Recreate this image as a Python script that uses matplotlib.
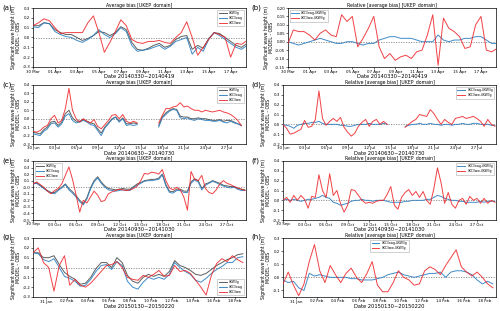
import numpy as np
import pandas as pd
import matplotlib
matplotlib.use("Agg")
import matplotlib.pyplot as plt
import matplotlib.dates as mdates

nan = np.nan

# ---------------- data (12-hourly samples) ----------------
# (a)/(b) 2014-03-30 .. 2014-04-19
a_w3g = [0.12, 0.12, 0.15, 0.14, 0.08, 0.05, 0.03, 0.03, 0.00, -0.03, -0.01, 0.02, 0.06, 0.05, 0.02, 0.05,
         0.11, 0.08, -0.05, -0.12, -0.13, -0.11, -0.08, -0.06, -0.10, -0.08, -0.02, 0.01, 0.02, -0.12,
         -0.08, -0.11, -0.01, 0.05, 0.04, 0.00, -0.04, -0.08, -0.10, -0.06]
a_owg = [0.11, 0.10, 0.15, 0.14, 0.06, 0.03, 0.01, 0.00, -0.03, -0.05, -0.02, 0.02, 0.08, 0.03, 0.00, 0.04,
         0.10, 0.06, -0.08, -0.14, -0.13, -0.12, -0.10, -0.08, -0.12, -0.09, -0.04, -0.02, 0.00, -0.17,
         -0.10, -0.14, -0.02, 0.05, 0.02, -0.02, -0.06, -0.10, -0.12, -0.08]
a_ww = [0.12, 0.15, 0.19, 0.17, 0.10, 0.04, 0.05, 0.05, 0.05, 0.05, 0.15, 0.22, 0.05, -0.15, -0.05, 0.06,
        0.18, 0.12, -0.02, -0.05, -0.06, -0.04, -0.04, -0.03, -0.05, -0.06, 0.00, 0.05, 0.16, 0.00,
        -0.18, -0.10, -0.02, 0.05, 0.03, 0.00, -0.20, -0.06, -0.07, -0.03]
b_owg = [0.00, -0.01, -0.02, -0.01, 0.00, 0.01, 0.02, 0.01, 0.00, -0.01, -0.01, 0.00, 0.00, -0.01, -0.02,
         -0.01, -0.01, 0.01, 0.02, 0.03, 0.03, 0.02, 0.02, 0.02, 0.01, 0.00, 0.00, 0.00, 0.04, 0.01,
         0.00, 0.01, 0.01, 0.02, 0.02, 0.03, 0.03, 0.01, -0.01, -0.01]
b_ww = [-0.01, 0.07, 0.06, 0.06, 0.04, 0.01, 0.05, 0.07, 0.04, 0.03, 0.16, 0.12, 0.15, -0.03, 0.02, 0.08,
        0.15, -0.03, -0.10, -0.07, -0.11, -0.09, -0.08, -0.10, -0.06, -0.05, 0.04, 0.16, -0.14, 0.14,
        0.08, 0.06, 0.03, -0.04, -0.03, 0.10, 0.15, -0.05, -0.06, -0.04]

# (c)/(d) 2014-06-30 .. 2014-07-30
c_w3g = [-0.16, -0.17, -0.18, -0.13, -0.10, -0.04, -0.03, -0.08, -0.04, 0.06, 0.10, 0.01, -0.03, -0.03,
         -0.01, -0.03, -0.05, -0.06, -0.12, -0.17, -0.10, -0.05, 0.00, 0.02, -0.03, 0.01, -0.06, -0.06,
         -0.05, -0.06, nan, nan, nan, nan, nan, -0.08, 0.02, 0.07, 0.10, 0.12, 0.11, 0.03, 0.02, 0.02,
         0.00, 0.00, 0.01, 0.00, 0.00, -0.01, -0.02, -0.02, -0.01, -0.03, -0.02, -0.02, -0.04, -0.06, -0.08]
c_owg = [-0.18, -0.19, -0.20, -0.15, -0.12, -0.06, -0.05, -0.10, -0.06, 0.03, 0.06, -0.02, -0.05, -0.04,
         -0.02, -0.04, -0.07, -0.08, -0.14, -0.20, -0.11, -0.06, -0.01, 0.02, -0.04, 0.00, -0.08, -0.07,
         -0.08, -0.07, nan, nan, nan, nan, nan, -0.10, 0.01, 0.05, 0.09, 0.11, 0.10, 0.01, 0.00, 0.01,
         -0.01, -0.02, 0.00, -0.01, -0.02, -0.02, -0.03, -0.03, -0.02, -0.04, -0.05, -0.03, -0.05, -0.06, -0.08]
c_ww = [-0.15, -0.16, -0.14, -0.10, -0.08, 0.00, 0.04, -0.05, -0.02, 0.12, 0.36, 0.10, 0.00, -0.04, 0.00,
        -0.03, -0.05, -0.01, -0.09, -0.12, -0.07, -0.02, 0.04, 0.05, 0.00, 0.05, -0.03, -0.05, -0.03,
        -0.05, nan, nan, nan, nan, nan, -0.05, 0.04, 0.12, 0.12, 0.14, 0.15, 0.19, 0.14, 0.15, 0.12,
        0.10, 0.10, 0.08, 0.10, 0.09, 0.08, 0.09, 0.10, 0.08, 0.07, 0.05, 0.02, -0.02, -0.08]
d_owg = [0.00, -0.01, -0.02, -0.04, -0.01, 0.00, 0.01, 0.01, 0.02, 0.02, 0.03, 0.01, 0.00, 0.00, 0.00,
         0.00, -0.01, -0.01, -0.02, -0.02, -0.01, 0.00, 0.00, 0.00, 0.01, 0.00, 0.00, 0.00, 0.01, 0.00,
         nan, nan, nan, nan, -0.02, -0.01, 0.00, 0.00, 0.01, 0.00, 0.00, 0.01, 0.00, 0.00, -0.01, 0.00,
         0.00, -0.01, 0.00, 0.00, 0.01, 0.00, 0.00, 0.01, 0.01, 0.00, 0.00, 0.00, -0.01, -0.01]
d_ww = [0.00, -0.04, -0.10, -0.09, -0.07, -0.05, 0.04, -0.03, -0.02, 0.05, 0.34, 0.06, -0.01, 0.03, 0.06,
        0.03, 0.07, -0.03, -0.08, -0.12, -0.09, -0.02, 0.02, 0.05, -0.02, 0.03, 0.05, 0.00, 0.03, 0.00,
        nan, nan, nan, nan, -0.03, 0.00, 0.03, 0.05, 0.10, 0.09, 0.08, 0.15, 0.11, 0.05, 0.00, 0.05,
        0.02, 0.00, 0.06, 0.07, 0.08, 0.06, 0.07, 0.08, 0.06, 0.03, -0.02, 0.05, 0.00, -0.02]

# (e)/(f) 2014-09-30 .. 2014-10-30
e_w3g = [0.05, 0.07, 0.03, -0.01, -0.05, -0.08, -0.08, -0.04, 0.00, 0.05, -0.02, -0.07, -0.13, -0.20,
         -0.25, -0.16, -0.01, 0.10, 0.16, 0.08, 0.02, -0.02, -0.03, -0.04, -0.03, -0.02, -0.03, -0.03,
         0.01, 0.05, 0.07, 0.10, 0.11, 0.12, 0.12, 0.14, 0.20, 0.04, -0.06, -0.07, -0.03, -0.03, -0.06,
         -0.06, 0.08, 0.13, 0.10, -0.02, 0.05, 0.07, 0.10, 0.08, 0.06, 0.03, 0.02, 0.01, 0.01, -0.02,
         -0.03, -0.04]
e_owg = [0.05, 0.06, 0.02, -0.02, -0.06, -0.09, -0.10, -0.05, -0.01, 0.04, -0.04, -0.09, -0.15, -0.22,
         -0.27, -0.18, -0.03, 0.08, 0.14, 0.06, 0.00, -0.04, -0.05, -0.06, -0.05, -0.04, -0.05, -0.05,
         0.00, 0.03, 0.06, 0.09, 0.10, 0.10, 0.11, 0.12, 0.19, 0.02, -0.08, -0.09, -0.05, -0.05, -0.08,
         -0.08, 0.06, 0.11, 0.08, -0.04, 0.03, 0.06, 0.09, 0.07, 0.04, 0.02, 0.00, -0.01, 0.00, -0.03,
         -0.05, -0.05]
e_ww = [0.05, 0.08, 0.04, 0.00, -0.06, -0.10, -0.05, -0.02, 0.05, 0.18, 0.31, 0.12, -0.12, -0.38, -0.20,
        -0.24, -0.15, -0.06, -0.12, -0.22, -0.20, -0.10, -0.07, -0.05, -0.03, -0.04, -0.05, -0.04,
        -0.02, 0.02, 0.10, 0.21, 0.20, 0.23, 0.22, 0.20, 0.27, 0.10, -0.01, -0.04, 0.00, -0.04, -0.15,
        -0.35, 0.24, 0.12, 0.10, 0.18, -0.02, -0.08, -0.10, -0.04, 0.05, 0.10, 0.06, 0.04, 0.01, -0.01,
        -0.03, -0.05]
f_owg = [0.00, 0.01, 0.00, 0.01, 0.00, -0.01, 0.00, 0.01, 0.01, 0.02, 0.03, 0.05, 0.03, 0.02, -0.02,
         -0.03, -0.05, -0.04, -0.03, -0.01, 0.00, 0.00, 0.01, 0.00, 0.00, -0.01, 0.00, 0.00, 0.00,
         -0.01, -0.02, -0.02, -0.02, -0.02, -0.01, -0.01, 0.00, 0.00, 0.00, 0.00, 0.01, 0.01, 0.03,
         0.05, 0.04, 0.02, 0.01, 0.00, 0.00, -0.01, -0.01, -0.02, -0.02, -0.02, -0.02, -0.01, -0.02,
         -0.01, -0.01, -0.01]
f_ww = [0.00, 0.03, -0.02, 0.05, 0.00, 0.05, 0.01, -0.08, 0.04, 0.03, 0.26, 0.10, 0.03, 0.27, 0.05,
        0.10, -0.03, -0.12, -0.05, 0.11, 0.10, 0.05, 0.00, -0.03, -0.02, -0.03, -0.01, 0.00, 0.00, 0.06,
        0.14, -0.05, -0.09, 0.03, 0.08, 0.11, 0.05, 0.09, 0.03, 0.09, 0.00, -0.04, 0.12, 0.33, 0.18,
        -0.03, 0.08, -0.04, -0.08, 0.00, 0.02, -0.04, 0.04, 0.00, 0.02, -0.03, 0.02, -0.03, 0.00, -0.02]

# (g)/(h) 2015-01-30 .. 2015-02-20
g_w3g = [0.15, 0.15, 0.10, 0.10, 0.12, 0.03, -0.05, -0.09, -0.12, -0.17, -0.16, -0.10, -0.01, 0.05, 0.05,
         0.00, 0.10, 0.05, -0.08, -0.14, -0.16, -0.10, -0.07, -0.09, -0.07, -0.09, -0.04, 0.07, 0.02,
         0.00, -0.03, -0.07, -0.08, -0.06, -0.02, 0.02, 0.05, 0.08, 0.10, 0.13, 0.14]
g_owg = [0.15, 0.14, 0.08, 0.06, 0.09, 0.00, -0.09, -0.11, -0.14, -0.19, -0.18, -0.12, -0.04, 0.02, 0.03,
         -0.02, 0.06, 0.02, -0.14, -0.20, -0.22, -0.15, -0.10, -0.12, -0.10, -0.12, -0.07, 0.05, 0.00,
         -0.04, -0.07, -0.13, -0.15, -0.11, -0.06, -0.02, 0.01, 0.05, 0.05, 0.10, 0.11]
g_ww = [0.15, 0.20, 0.05, 0.00, -0.24, 0.02, 0.12, -0.18, -0.12, -0.18, -0.20, -0.16, -0.10, -0.04, 0.02,
        0.03, 0.06, 0.00, -0.10, -0.12, -0.13, -0.08, -0.10, -0.07, -0.03, -0.09, -0.08, 0.02, -0.04,
        -0.03, -0.06, -0.13, -0.20, -0.28, -0.08, 0.04, 0.09, 0.06, 0.12, 0.08, 0.05]
h_owg = [-0.02, -0.04, -0.03, -0.08, -0.10, 0.03, 0.01, 0.02, 0.01, 0.00, 0.00, 0.00, 0.00, -0.01, -0.01,
         -0.02, -0.02, -0.02, -0.01, 0.00, 0.02, 0.03, 0.04, 0.02, 0.01, 0.00, 0.01, 0.02, 0.03, 0.03,
         0.04, 0.00, 0.04, 0.05, 0.05, 0.04, 0.02, -0.02, -0.05, -0.03, -0.05]
h_ww = [-0.05, 0.04, -0.06, -0.14, -0.05, 0.12, 0.25, 0.05, -0.04, 0.09, 0.02, -0.04, 0.03, 0.07, 0.00,
        -0.04, 0.03, 0.12, -0.06, -0.11, -0.11, -0.04, 0.05, 0.00, -0.02, -0.06, -0.05, 0.05, 0.08,
        0.06, 0.02, 0.09, 0.15, 0.21, 0.08, 0.04, 0.01, 0.04, 0.00, -0.05, -0.08]

starts = ["2014-03-30 00:00", "2014-06-30 00:00", "2014-09-30 00:00", "2015-01-29 18:00"]
spans = [19.4, 29.65, 29.65, 20.3]           # days shown on x axis
tick_first = ["2014-03-30", "2014-06-30", "2014-09-30", "2015-01-31"]
tick_step = [2, 3, 3, 2]
date_labels = ["Date 20140330~20140419", "Date 20140630~20140730",
               "Date 20140930~20141030", "Date 20150130~20150220"]
ylims_left = [(-0.3, 0.3), (-0.3, 0.4), (-0.5, 0.4), (-0.3, 0.3)]
yticks_left = [np.arange(-0.3, 0.31, 0.1), np.arange(-0.3, 0.41, 0.1),
               np.arange(-0.5, 0.41, 0.1), np.arange(-0.3, 0.31, 0.1)]
ylims_right = [(-0.15, 0.20), (-0.2, 0.4), (-0.2, 0.4), (-0.15, 0.3)]
yticks_right = [np.arange(-0.15, 0.201, 0.05), np.arange(-0.2, 0.41, 0.1),
                np.arange(-0.2, 0.41, 0.1), np.arange(-0.1, 0.31, 0.1)]
right_fmt = ["%.2f", "%.1f", "%.1f", "%.1f"]

left_data = [(a_w3g, a_owg, a_ww), (c_w3g, c_owg, c_ww), (e_w3g, e_owg, e_ww), (g_w3g, g_owg, g_ww)]
right_data = [(b_owg, b_ww), (d_owg, d_ww), (f_owg, f_ww), (h_owg, h_ww)]
left_leg_loc = ["upper right", "upper right", "upper left", "lower right"]
right_leg_loc = ["upper left", "upper right", "upper right", "upper center"]
letters_left = ["(a)", "(c)", "(e)", "(g)"]
letters_right = ["(b)", "(d)", "(f)", "(h)"]

C_GRAY = "#4d4d4d"
C_BLUE = "#2c7fc0"
C_RED = "#ee2024"

plt.rcParams['font.family'] = ['DejaVu Sans']
fig = plt.figure(figsize=(5.0, 3.11), dpi=100)

row_bottoms = [1 - 67 / 311, 1 - 144 / 311, 1 - 220 / 311, 1 - 297 / 311]
row_h = 59 / 311
right_lefts = [288 / 500, 283 / 500, 283 / 500, 283 / 500]


def style_axis(ax, i, ylim, yt, fmt, title):
    start = pd.Timestamp(starts[i])
    ax.set_xlim(start, start + pd.Timedelta(days=spans[i]))
    ax.set_ylim(*ylim)
    ax.set_yticks(yt)
    ax.set_yticklabels([fmt % v for v in yt])
    ticks = pd.date_range(tick_first[i], start + pd.Timedelta(days=spans[i]), freq="%dD" % tick_step[i])
    ax.set_xticks(ticks)
    ax.xaxis.set_major_formatter(mdates.DateFormatter("%d %b"))
    ax.tick_params(labelsize=2.9, length=1.2, width=0.4, pad=0.6)
    for s in ax.spines.values():
        s.set_linewidth(0.5)
    ax.axhline(0, color="#888888", ls=(0, (1.5, 1.5)), lw=0.6, zorder=1)
    ax.set_title(title, fontsize=3.3, pad=0.8)
    ax.set_xlabel(date_labels[i], fontsize=3.7, labelpad=0.2)
    ax.set_ylabel("Significant wave height (m)\nMODEL - OBS", fontsize=3.3, labelpad=1.0, linespacing=1.0)


for i in range(4):
    start = pd.Timestamp(starts[i])
    top_y = row_bottoms[i] + row_h
    # left panel
    axl = fig.add_axes([33 / 500, row_bottoms[i], 213 / 500, row_h])
    w3g, owg, ww = left_data[i]
    t = pd.date_range(start, periods=len(w3g), freq="12h")
    axl.plot(t, w3g, color=C_GRAY, lw=0.7, alpha=0.9, label="UKW3g", zorder=3)
    axl.plot(t, owg[:len(t)], color=C_BLUE, lw=0.7, alpha=0.9, label="UKC3owg", zorder=4)
    axl.plot(t, ww[:len(t)], color=C_RED, lw=0.7, alpha=0.85, label="UKC3ww", zorder=5)
    style_axis(axl, i, ylims_left[i], yticks_left[i], "%.1f", "Average bias [UKEP_domain]")
    leg = axl.legend(loc=left_leg_loc[i], fontsize=2.2, frameon=True, handlelength=2.5,
                     borderpad=0.5, labelspacing=0.3, fancybox=False)
    leg.get_frame().set_linewidth(0.4)
    leg.get_frame().set_edgecolor("#999999")
    fig.text(2 / 500, top_y + 4 / 311, letters_left[i], fontsize=5.0, va="top", ha="left")

    # right panel
    axr = fig.add_axes([right_lefts[i], row_bottoms[i], 496 / 500 - right_lefts[i], row_h])
    owg_r, ww_r = right_data[i]
    tr = pd.date_range(start, periods=len(owg_r), freq="12h")
    axr.plot(tr, owg_r, color=C_BLUE, lw=0.7, alpha=0.9, label="UKC3owg-UKW3g", zorder=4)
    axr.plot(tr, ww_r[:len(tr)], color=C_RED, lw=0.7, alpha=0.85, label="UKC3ww-UKW3g", zorder=5)
    style_axis(axr, i, ylims_right[i], yticks_right[i], right_fmt[i],
               "Relative [average bias] [UKEP_domain]")
    leg = axr.legend(loc=right_leg_loc[i], fontsize=2.2, frameon=True, handlelength=2.5,
                     borderpad=0.5, labelspacing=0.3, fancybox=False)
    leg.get_frame().set_linewidth(0.4)
    leg.get_frame().set_edgecolor("#999999")
    fig.text(251 / 500, top_y + 4 / 311, letters_right[i], fontsize=5.0, va="top", ha="left")

fig.savefig("out.png", dpi=100)
